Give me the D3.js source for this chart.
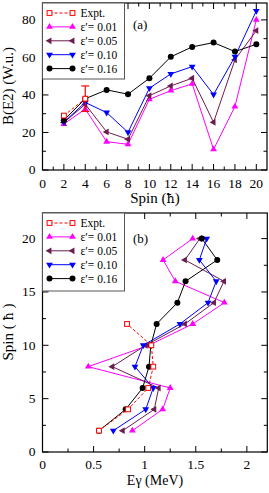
<!DOCTYPE html>
<html>
<head>
<meta charset="utf-8">
<script src="https://cdn.jsdelivr.net/npm/d3@7"></script>
<style>
  body { margin: 0; background: #fff; }
  svg { display: block; font-family: "Liberation Serif", "DejaVu Serif", serif; }
</style>
</head>
<body>
<svg id="chart" width="269" height="493"></svg>
<script>
// ---- data ----
const spins = [2, 4, 6, 8, 10, 12, 14, 16, 18, 20];
const epsLabels = ["ε′= 0.01", "ε′= 0.05", "ε′= 0.10", "ε′= 0.16"];

// panel (a): B(E2) in W.u. vs spin
const be2Expt = [29, 38];
const be2ExptErr = [[null, null], [31.2, 44.8]];
const be2Eps001 = [24.5, 32.5, 15.1, 13.7, 37.7, 42.3, 45.9, 11, 33.8, 80];
const be2Eps005 = [25.3, 35, 20.3, 16.4, 39.6, 44.8, 48.9, 25.4, 58.7, 74.3];
const be2Eps010 = [25.5, 36, 30.6, 20.1, 43.6, 51.2, 55.1, 40.2, 60.4, 84.8];
const be2Eps016 = [26.5, 38, 42.7, 40.4, 48.9, 60.3, 65.6, 67.9, 63.1, 67];

// panel (b): E_gamma in MeV vs spin
const egExptSpins = [2, 4, 6, 8, 10, 12];
const egExpt = [0.553, 0.837, 1.035, 1.084, 1.065, 0.827];
const egEps001 = [0.88, 1.176, 1.25, 0.448, 1.04, 1.47, 1.78, 1.30, 1.18, 1.47];
const egEps005 = [0.785, 1.094, 1.137, 0.683, 1.01, 1.394, 1.678, 1.776, 1.394, 1.54];
const egEps010 = [0.693, 1.01, 1.084, 0.905, 0.986, 1.345, 1.62, 1.70, 1.535, 1.607];
const egEps016 = [0.553, 0.814, 0.98, 1.042, 1.06, 1.117, 1.32, 1.40, 1.71, 1.56];

const colors = ["#ff00ff", "#6b1d4d", "#0000ff", "#000000"];
const shapes = ["up", "left", "down", "circle"];

const svg = d3.select("#chart");

const drawMarker = (g, shape, color) => {
  if (shape === "circle") {
    return g.append("circle").attr("r", 3).attr("fill", color);
  }
  if (shape === "square") {
    return g.append("rect").attr("x", -2.4).attr("y", -2.4).attr("width", 4.8).attr("height", 4.8)
      .attr("fill", "white").attr("stroke", color).attr("stroke-width", 1);
  }
  const rot = { up: 0, down: 180, left: -90 }[shape];
  return g.append("path")
    .attr("d", d3.symbol().type(d3.symbolTriangle).size(20))
    .attr("transform", `rotate(${rot})`)
    .attr("fill", color);
};

const frameAxes = (g, x, y, xTicks, xMinor, yTicks, yMinor) => {
  const [x0, x1] = x.range();
  const [y0, y1] = y.range();
  const tg = g.append("g").attr("stroke", "#000").attr("stroke-width", 1);
  const tickLines = (vals, len, isX) => {
    vals.forEach(v => {
      if (isX) {
        const px = x(v);
        tg.append("line").attr("x1", px).attr("x2", px).attr("y1", y0).attr("y2", y0 - len);
        tg.append("line").attr("x1", px).attr("x2", px).attr("y1", y1).attr("y2", y1 + len);
      } else {
        const py = y(v);
        tg.append("line").attr("y1", py).attr("y2", py).attr("x1", x0).attr("x2", x0 + len);
        tg.append("line").attr("y1", py).attr("y2", py).attr("x1", x1).attr("x2", x1 - len);
      }
    });
  };
  tickLines(xTicks, 6, true);
  tickLines(xMinor, 3.5, true);
  tickLines(yTicks, 6, false);
  tickLines(yMinor, 3.5, false);
  tg.append("rect").attr("x", x0).attr("y", y1).attr("width", x1 - x0).attr("height", y0 - y1)
    .attr("fill", "none").attr("stroke", "#000").attr("stroke-width", 1.2);
};

const tickLabels = (g, x, y, xTicks, yTicks, xDy) => {
  const [y0] = y.range();
  const [x0] = x.range();
  g.append("g").selectAll("text").data(xTicks).enter().append("text")
    .attr("x", d => x(d)).attr("y", y0 + xDy).attr("text-anchor", "middle")
    .attr("font-size", 13.5).text(d => d);
  g.append("g").selectAll("text").data(yTicks).enter().append("text")
    .attr("x", x0 - 7).attr("y", d => y(d)).attr("dy", "0.33em").attr("text-anchor", "end")
    .attr("font-size", 13.5).text(d => d);
};

const legend = (g, x0, y0, rows, w, h) => {
  g.append("rect").attr("x", x0).attr("y", y0).attr("width", w).attr("height", h)
    .attr("fill", "white").attr("stroke", "#555").attr("stroke-width", 1);
  rows.forEach((r, i) => {
    const yy = y0 + 10 + i * 13.9;
    g.append("line").attr("x1", x0 + 7).attr("x2", x0 + 30).attr("y1", yy).attr("y2", yy)
      .attr("stroke", r.color).attr("stroke-width", 1).attr("stroke-dasharray", r.dash || null);
    [x0 + 7, x0 + 30].forEach(px => {
      drawMarker(g.append("g").attr("transform", `translate(${px},${yy})`), r.shape, r.color);
    });
    g.append("text").attr("x", x0 + 38).attr("y", yy).attr("dy", "0.35em")
      .attr("font-size", 11.5).text(r.label);
  });
};

const series = (g, xs, ys, color, shape, dash) => {
  const pts = xs.map((xv, i) => [xv, ys[i]]);
  g.append("path").datum(pts)
    .attr("d", d3.line())
    .attr("fill", "none").attr("stroke", color).attr("stroke-width", 1)
    .attr("stroke-dasharray", dash || null);
  pts.forEach(p => drawMarker(g.append("g").attr("transform", `translate(${p[0]},${p[1]})`), shape, color));
};

// text with an hbar drawn from a font that has the glyph
const hbarText = (sel, before, after) => {
  sel.append("tspan").text(before);
  sel.append("tspan").attr("font-family", "DejaVu Serif").attr("font-size", "0.85em").text("ħ");
  sel.append("tspan").text(after);
  return sel;
};

const legendRows = [{ label: "Expt.", color: "#ff0000", shape: "square", dash: "3,2" }]
  .concat(epsLabels.map((l, i) => ({ label: l, color: colors[i], shape: shapes[i] })));

// ---------- panel (a) ----------
{
  const x = d3.scaleLinear().domain([0, 21]).range([42.5, 267]);
  const y = d3.scaleLinear().domain([0, 89]).range([170, 3]);
  const g = svg.append("g");
  frameAxes(g, x, y, d3.range(0, 21, 2), d3.range(1, 21, 2), d3.range(0, 81, 20), d3.range(10, 90, 20));
  tickLabels(g, x, y, d3.range(0, 21, 2), d3.range(0, 81, 20), 18);

  const sets = [be2Eps001, be2Eps005, be2Eps010, be2Eps016];
  const plot = g.append("g");
  sets.forEach((vals, i) => series(plot, spins.map(x), vals.map(y), colors[i], shapes[i]));
  // experiment with error bar
  const ex = spins.slice(0, 2);
  const eg = plot.append("g");
  be2ExptErr.forEach((e, i) => {
    if (e[0] == null) return;
    const px = x(ex[i]);
    eg.append("line").attr("x1", px).attr("x2", px).attr("y1", y(e[0])).attr("y2", y(e[1]))
      .attr("stroke", "#ff0000").attr("stroke-width", 1.2);
    [e[0], e[1]].forEach(v => eg.append("line").attr("x1", px - 4).attr("x2", px + 4)
      .attr("y1", y(v)).attr("y2", y(v)).attr("stroke", "#ff0000").attr("stroke-width", 1.2));
  });
  series(plot, ex.map(x), be2Expt.map(y), "#ff0000", "square", "3,2");

  legend(g, 42.5, 3, legendRows, 82, 76);
  g.append("text").attr("x", 133).attr("y", 29).attr("font-size", 13).text("(a)");
  hbarText(g.append("text").attr("x", 155).attr("y", 203).attr("text-anchor", "middle")
    .attr("font-size", 15), "Spin (", ")");
  g.append("text").attr("transform", "translate(13,86) rotate(-90)").attr("text-anchor", "middle")
    .attr("font-size", 15).text("B(E2) (W.u.)");
}

// ---------- panel (b) ----------
{
  const x = d3.scaleLinear().domain([0, 2.2]).range([42.5, 267.3]);
  const y = d3.scaleLinear().domain([0, 22.4]).range([452, 213]);
  const g = svg.append("g");
  const xMaj = [0, 0.5, 1, 1.5, 2];
  const xMin = [0.25, 0.75, 1.25, 1.75];
  frameAxes(g, x, y, xMaj, xMin, d3.range(0, 21, 5), [2.5, 7.5, 12.5, 17.5]);
  tickLabels(g, x, y, xMaj, d3.range(0, 21, 5), 16.5);

  const sets = [egEps001, egEps005, egEps010, egEps016];
  const plot = g.append("g");
  sets.forEach((vals, i) => series(plot, vals.map(x), spins.map(y), colors[i], shapes[i]));
  series(plot, egExpt.map(x), egExptSpins.map(y), "#ff0000", "square", "3,2");

  legend(g, 42.5, 213, legendRows, 82, 78);
  g.append("text").attr("x", 133).attr("y", 243).attr("font-size", 13).text("(b)");
  g.append("text").attr("x", 155).attr("y", 485).attr("text-anchor", "middle")
    .attr("font-size", 14).text("Eγ (MeV)");
  hbarText(g.append("text").attr("transform", "translate(13,332) rotate(-90)").attr("text-anchor", "middle")
    .attr("font-size", 15), "Spin ( ", " )");
}
</script>
</body>
</html>
